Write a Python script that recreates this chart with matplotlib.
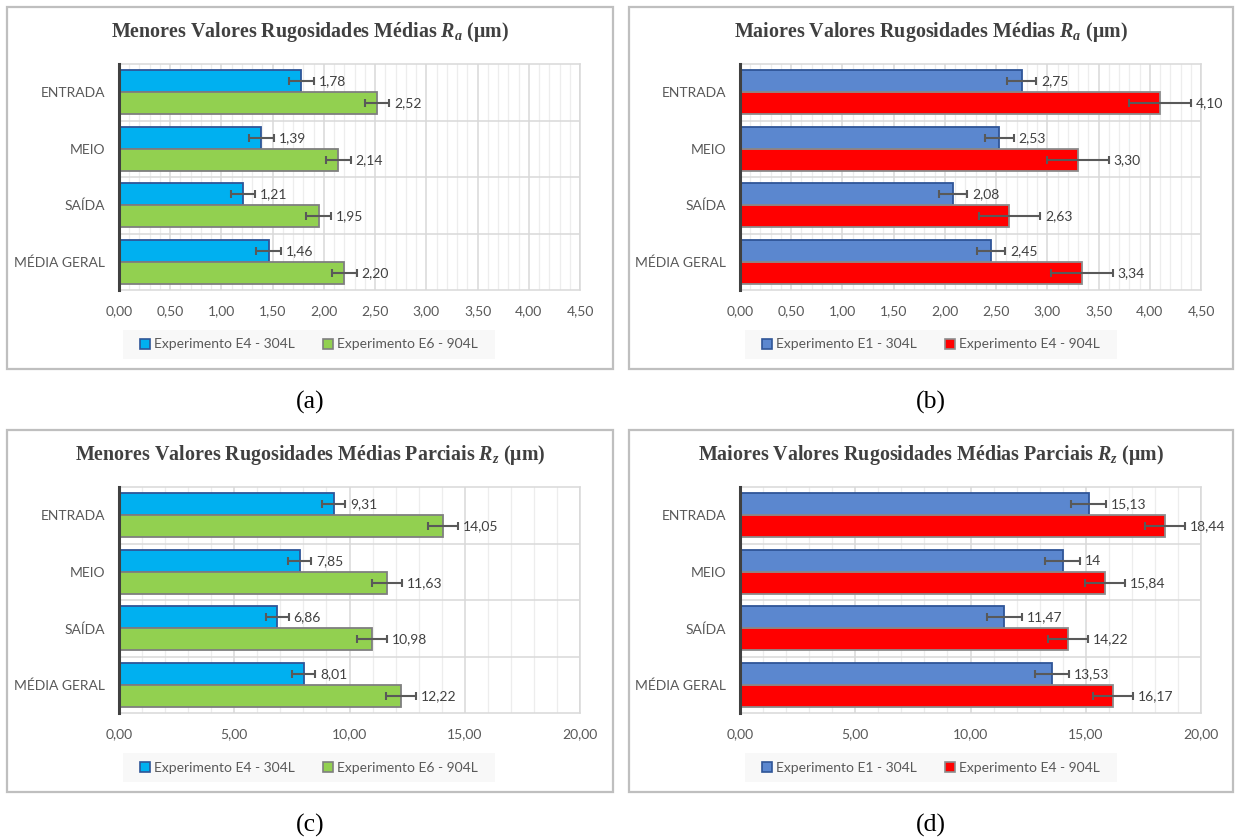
import matplotlib
matplotlib.use("Agg")
import matplotlib.pyplot as plt
from matplotlib.patches import Rectangle, Patch
from matplotlib.ticker import MultipleLocator, FuncFormatter
import numpy as np

# ---------------- data ----------------
categories = ["ENTRADA", "MEIO", "SAÍDA", "MÉDIA GERAL"]

ra_low_e4 = [1.78, 1.39, 1.21, 1.46]
ra_low_e6 = [2.52, 2.14, 1.95, 2.20]
ra_low_e4_err = [0.12, 0.12, 0.12, 0.12]
ra_low_e6_err = [0.12, 0.12, 0.12, 0.12]

ra_high_e1 = [2.75, 2.53, 2.08, 2.45]
ra_high_e4 = [4.10, 3.30, 2.63, 3.34]
ra_high_e1_err = [0.14, 0.14, 0.14, 0.14]
ra_high_e4_err = [0.30, 0.30, 0.30, 0.30]

rz_low_e4 = [9.31, 7.85, 6.86, 8.01]
rz_low_e6 = [14.05, 11.63, 10.98, 12.22]
rz_low_e4_err = [0.50, 0.50, 0.50, 0.50]
rz_low_e6_err = [0.65, 0.65, 0.65, 0.65]

rz_high_e1 = [15.13, 14, 11.47, 13.53]
rz_high_e4 = [18.44, 15.84, 14.22, 16.17]
rz_high_e1_err = [0.75, 0.75, 0.75, 0.75]
rz_high_e4_err = [0.87, 0.87, 0.87, 0.87]

# ---------------- style ----------------
W, H = 1235, 839
plt.rcParams["mathtext.fontset"] = "custom"
plt.rcParams["mathtext.rm"] = "Liberation Serif:bold"
plt.rcParams["mathtext.it"] = "Liberation Serif:italic:bold"
plt.rcParams["mathtext.bf"] = "Liberation Serif:bold"

UI_FONT = "Lato"
UI_SIZE = 10
TICK_COLOR = "#595959"
LABEL_COLOR = "#404040"

C_CYAN, E_CYAN = "#00B0F0", "#2F5597"
C_GREEN, E_GREEN = "#92D050", "#7F7F7F"
C_BLUE, E_BLUE = "#5B87CF", "#2F5597"
C_RED, E_RED = "#FF0000", "#8C8C8C"

fig = plt.figure(figsize=(W / 100, H / 100), dpi=100)


def fx(x):
    return x / W


def fy(y):
    return 1 - y / H


def comma(v):
    if isinstance(v, int):
        return str(v)
    return f"{v:.2f}".replace(".", ",")


def panel(box, axbox, title, s1, s2, err1, err2, names, fc, ec,
          xmax, major, minor, legbox, caption, cap_y):
    # outer frame
    x0, y0, x1, y1 = box
    fig.add_artist(Rectangle((fx(x0), fy(y1)), fx(x1 - x0), (y1 - y0) / H,
                             transform=fig.transFigure, facecolor="none",
                             edgecolor="#BFBFBF", lw=1.6))
    cx = (x0 + x1) / 2
    fig.text(fx(cx), fy(y0 + 25), title, ha="center", va="center",
             fontfamily="Liberation Serif", fontweight="bold",
             fontsize=14.4, color="#404040")

    ax0, ay0, ax1, ay1 = axbox
    ax = fig.add_axes([fx(ax0), fy(ay1), fx(ax1 - ax0), (ay1 - ay0) / H])

    y = np.arange(len(categories))
    h = 0.39
    ekw = dict(ecolor="#595959", elinewidth=1.5, capsize=3, capthick=1.5,
               zorder=4)
    ax.barh(y - h / 2, s1, height=h, color=fc[0], edgecolor=ec[0],
            linewidth=1.3, xerr=err1, error_kw=ekw, zorder=3)
    ax.barh(y + h / 2, s2, height=h, color=fc[1], edgecolor=ec[1],
            linewidth=1.3, xerr=err2, error_kw=ekw, zorder=3)

    for vals, errs, off in ((s1, err1, -h / 2), (s2, err2, h / 2)):
        for yi, v, e in zip(y, vals, errs):
            ax.annotate(comma(v), (v + e, yi + off), xytext=(3.5, 0),
                        textcoords="offset points", va="center", ha="left",
                        fontfamily=UI_FONT, fontsize=UI_SIZE,
                        color=LABEL_COLOR, zorder=5)

    ax.set_xlim(0, xmax)
    ax.set_ylim(len(categories) - 0.5, -0.5)
    ax.xaxis.set_major_locator(MultipleLocator(major))
    ax.xaxis.set_minor_locator(MultipleLocator(minor))
    ax.xaxis.set_major_formatter(FuncFormatter(lambda v, p: f"{v:.2f}".replace(".", ",")))
    ax.set_yticks(y)
    ax.set_yticklabels(categories)
    ax.set_yticks(np.arange(len(categories) - 1) + 0.5, minor=True)

    ax.grid(which="minor", axis="x", color="#EDEDED", lw=0.9, zorder=0)
    ax.grid(which="major", axis="x", color="#D9D9D9", lw=1.1, zorder=1)
    ax.grid(which="minor", axis="y", color="#D9D9D9", lw=1.1, zorder=1)
    ax.set_axisbelow(True)

    ax.tick_params(which="both", length=0)
    ax.tick_params(axis="x", pad=11)
    ax.tick_params(axis="y", pad=10)
    for t in ax.get_xticklabels() + ax.get_yticklabels():
        t.set_fontfamily(UI_FONT)
        t.set_fontsize(UI_SIZE)
        t.set_color(TICK_COLOR)

    for s in ("top", "right", "bottom"):
        ax.spines[s].set_color("#D9D9D9")
        ax.spines[s].set_linewidth(1.1)
    ax.spines["left"].set_color("#404040")
    ax.spines["left"].set_linewidth(2.2)
    ax.spines["left"].set_zorder(6)

    # legend strip
    lx0, ly0, lx1, ly1 = legbox
    fig.add_artist(Rectangle((fx(lx0), fy(ly1)), fx(lx1 - lx0), (ly1 - ly0) / H,
                             transform=fig.transFigure, facecolor="#F8F8F8",
                             edgecolor="none"))
    handles = [Patch(facecolor=fc[0], edgecolor=ec[0], lw=1.2),
               Patch(facecolor=fc[1], edgecolor=ec[1], lw=1.2)]
    fig.legend(handles, names, loc="center",
               bbox_to_anchor=(fx((lx0 + lx1) / 2), fy((ly0 + ly1) / 2)),
               ncol=2, frameon=False, handlelength=0.75, handleheight=0.75,
               handletextpad=0.3, columnspacing=2.0,
               prop=dict(family=UI_FONT, size=UI_SIZE), labelcolor=TICK_COLOR)

    fig.text(fx(cx), fy(cap_y), caption, ha="center", va="center",
             fontfamily="Liberation Serif", fontsize=18.5, color="black")


dy = 423
names_low = ["Experimento E4 - 304L", "Experimento E6 - 904L"]
names_high = ["Experimento E1 - 304L", "Experimento E4 - 904L"]

panel((7, 7, 613, 369), (119, 64, 580, 290),
      r"Menores Valores Rugosidades Médias $R_a$ (μm)",
      ra_low_e4, ra_low_e6, ra_low_e4_err, ra_low_e6_err, names_low,
      (C_CYAN, C_GREEN), (E_CYAN, E_GREEN), 4.5, 0.5, 0.1,
      (123, 330, 495, 359), "(a)", 402)

panel((629, 7, 1233, 369), (740, 64, 1201, 290),
      r"Maiores Valores Rugosidades Médias $R_a$ (μm)",
      ra_high_e1, ra_high_e4, ra_high_e1_err, ra_high_e4_err, names_high,
      (C_BLUE, C_RED), (E_BLUE, E_RED), 4.5, 0.5, 0.1,
      (745, 330, 1117, 359), "(b)", 402)

panel((7, 7 + dy, 613, 369 + dy), (119, 64 + dy, 580, 290 + dy),
      r"Menores Valores Rugosidades Médias Parciais $R_z$ (μm)",
      rz_low_e4, rz_low_e6, rz_low_e4_err, rz_low_e6_err, names_low,
      (C_CYAN, C_GREEN), (E_CYAN, E_GREEN), 20, 5, 1,
      (123, 330 + dy, 495, 359 + dy), "(c)", 402 + dy)

panel((629, 7 + dy, 1233, 369 + dy), (740, 64 + dy, 1201, 290 + dy),
      r"Maiores Valores Rugosidades Médias Parciais $R_z$ (μm)",
      rz_high_e1, rz_high_e4, rz_high_e1_err, rz_high_e4_err, names_high,
      (C_BLUE, C_RED), (E_BLUE, E_RED), 20, 5, 1,
      (745, 330 + dy, 1117, 359 + dy), "(d)", 402 + dy)

fig.savefig("out.png", dpi=100, facecolor="white")
